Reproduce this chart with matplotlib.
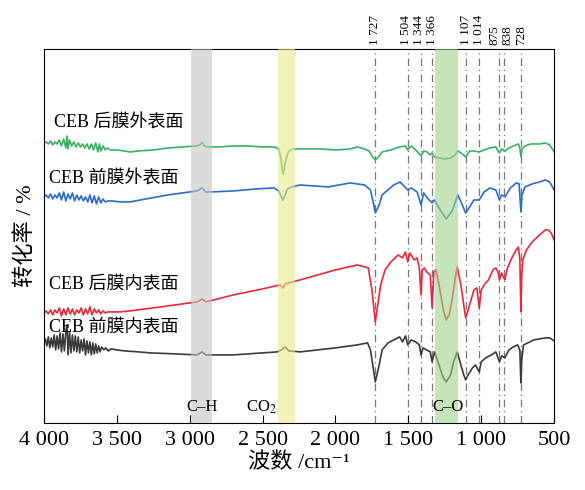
import numpy as np
import matplotlib
matplotlib.use("Agg")
import matplotlib.pyplot as plt

plt.rcParams['font.family'] = ['Liberation Serif', 'Noto Sans CJK SC', 'DejaVu Sans']
plt.rcParams['mathtext.fontset'] = 'stix'

# spectra: wavenumber (cm-1) and height (arbitrary units)
green_w = [4000, 3985, 3970, 3955, 3940, 3925, 3910, 3895, 3880, 3865, 3850, 3842, 3835, 3825, 3810,
           3795, 3780, 3765, 3750, 3735, 3720, 3705, 3690, 3675, 3660, 3645, 3630, 3620, 3610, 3595,
           3580, 3565, 3545, 3500, 3450, 3410, 3350, 3250, 3150, 3050, 2960, 2930, 2915, 2900, 2870,
           2800, 2700, 2600, 2500, 2420, 2390, 2375, 2365, 2358, 2350, 2342, 2335, 2320, 2290, 2200,
           2100, 2000, 1900, 1850, 1800, 1770, 1745, 1727, 1705, 1680, 1620, 1560, 1520, 1504, 1480,
           1450, 1430, 1413, 1395, 1370, 1350, 1337, 1320, 1290, 1250, 1210, 1180, 1160, 1130, 1107,
           1080, 1050, 1014, 980, 940, 900, 875, 860, 838, 810, 780, 745, 735, 728, 720,
           700, 660, 600, 560, 530, 500]
green_v = [280, 281, 279, 282, 278, 281, 279, 283, 277, 284, 275, 287, 274, 283, 277,
           281, 276, 280, 276, 279, 275, 279, 274, 279, 273, 280, 271, 279, 272, 277,
           273, 275, 273, 273, 272, 271, 272, 273, 275, 276, 277, 278, 281, 277, 276,
           276, 277, 277, 276, 276, 274, 265, 253, 249, 256, 262, 266, 272, 274, 274,
           274, 273, 274, 276, 274, 272, 266, 263, 266, 271, 273, 276, 277, 273, 277,
           273, 270, 267, 272, 271, 268, 270, 266, 265, 264, 265, 268, 272, 269, 266,
           272, 272, 271, 273, 275, 276, 270, 274, 272, 275, 277, 279, 275, 266, 274,
           277, 279, 279, 280, 278, 271]

blue_w = [4000, 3985, 3970, 3955, 3940, 3925, 3910, 3895, 3880, 3865, 3850, 3835, 3820, 3805, 3790,
          3775, 3760, 3745, 3730, 3715, 3700, 3685, 3670, 3655, 3640, 3625, 3610, 3595, 3580, 3560,
          3530, 3480, 3410, 3300, 3150, 3000, 2950, 2915, 2890, 2850, 2700, 2550, 2420, 2390, 2370,
          2360, 2345, 2330, 2300, 2243, 2050, 1900, 1800, 1760, 1740, 1727, 1700, 1680, 1600, 1557,
          1504, 1480, 1440, 1413, 1395, 1370, 1337, 1320, 1290, 1240, 1200, 1160, 1130, 1107, 1080,
          1050, 1014, 980, 940, 900, 875, 860, 838, 800, 760, 740, 728, 720, 700, 650,
          600, 560, 530, 500]
blue_v = [226, 228, 225, 229, 224, 228, 225, 230, 223, 231, 222, 229, 224, 230, 222,
          228, 223, 227, 222, 226, 221, 228, 220, 227, 219, 226, 220, 224, 221, 222,
          222, 221, 221, 224, 228, 231, 232, 235, 231, 231, 232, 234, 235, 232, 226,
          223, 228, 234, 236, 238, 236, 240, 238, 233, 220, 210, 218, 228, 238, 241,
          233, 235, 231, 218, 230, 225, 220, 223, 215, 204, 212, 228, 218, 210, 216,
          223, 223, 231, 235, 233, 223, 228, 226, 235, 240, 239, 211, 228, 236, 239,
          241, 243, 241, 233]

red_w = [4000, 3985, 3970, 3955, 3940, 3925, 3910, 3895, 3880, 3865, 3850, 3835, 3820, 3805, 3790,
         3775, 3760, 3745, 3730, 3715, 3700, 3685, 3670, 3655, 3640, 3625, 3610, 3595, 3580, 3560,
         3530, 3480, 3410, 3200, 3000, 2950, 2915, 2890, 2700, 2500, 2380, 2360, 2345, 2243, 2000,
         1850, 1775, 1750, 1727, 1710, 1690, 1660, 1620, 1570, 1540, 1520, 1504, 1490, 1460, 1440,
         1425, 1413, 1405, 1390, 1375, 1350, 1337, 1325, 1310, 1290, 1260, 1240, 1220, 1200, 1180,
         1165, 1140, 1120, 1107, 1090, 1070, 1050, 1030, 1014, 1000, 980, 950, 920, 900, 885,
         875, 860, 845, 838, 820, 790, 760, 745, 735, 728, 722, 715, 690, 650, 600,
         560, 540, 520, 500]
red_v = [110, 112, 109, 113, 108, 113, 110, 115, 107, 114, 108, 115, 109, 114, 108,
         113, 110, 115, 108, 114, 109, 116, 108, 114, 110, 113, 109, 112, 110, 111,
         111, 111, 112, 116, 120, 121, 124, 121, 128, 134, 138, 135, 139, 143, 153,
         158, 155, 133, 101, 118, 138, 153, 161, 168, 165, 171, 161, 170, 163, 165,
         155, 128, 153, 155, 151, 148, 115, 151, 153, 138, 113, 103, 108, 123, 143,
         156, 138, 118, 105, 113, 123, 133, 135, 115, 133, 138, 143, 153, 155, 151,
         143, 150, 145, 143, 155, 165, 173, 176, 163, 111, 148, 163, 173, 181, 188,
         193, 193, 190, 183]

black_w = [4000, 3990, 3980, 3970, 3960, 3950, 3940, 3930, 3920, 3910, 3900, 3890, 3880, 3870, 3860,
           3850, 3842, 3835, 3825, 3815, 3805, 3795, 3785, 3775, 3765, 3755, 3745, 3735, 3725, 3715,
           3705, 3695, 3685, 3675, 3665, 3655, 3645, 3635, 3625, 3615, 3605, 3590, 3575, 3560, 3540,
           3500, 3450, 3350, 3270, 3100, 2950, 2915, 2890, 2700, 2500, 2400, 2370, 2345, 2320, 2243,
           2000, 1850, 1780, 1760, 1727, 1700, 1680, 1640, 1600, 1560, 1540, 1520, 1504, 1480, 1450,
           1425, 1413, 1400, 1375, 1350, 1337, 1320, 1290, 1260, 1240, 1210, 1190, 1165, 1140, 1120,
           1107, 1090, 1060, 1040, 1014, 1000, 970, 930, 900, 875, 860, 838, 810, 780, 750,
           735, 728, 722, 710, 680, 640, 600, 560, 530, 500]
black_v = [80, 84, 77, 86, 75, 85, 76, 88, 73, 87, 74, 90, 71, 89, 72,
           92, 98, 68, 91, 70, 88, 72, 87, 71, 86, 70, 83, 72, 84, 68,
           82, 70, 81, 68, 80, 69, 79, 70, 77, 71, 76, 73, 75, 72, 74,
           73, 72, 71, 70, 69, 68, 71, 68, 68, 70, 71, 73, 76, 72, 71,
           75, 78, 80, 73, 41, 58, 73, 80, 83, 86, 81, 87, 78, 83, 81,
           78, 68, 75, 73, 71, 61, 71, 58, 45, 41, 48, 61, 71, 58, 48,
           43, 48, 55, 58, 51, 61, 65, 68, 71, 61, 67, 65, 73, 76, 78,
           73, 40, 63, 78, 80, 83, 84, 85, 85, 82]

# peak markers: line position, label text, label position
peak_pos = [1727, 1504, 1413, 1337, 1107, 1014, 880, 843, 728]
peak_lab = ['1 727', '1 504', '1 344', '1 366', '1 107', '1 014', '875', '838', '728']
lab_pos = [1727, 1515, 1426, 1337, 1107, 1014, 911, 822, 726]

# shaded regions
bands = [(2990, 2850, '#c4c4c4'), (2395, 2280, '#e8eb8c'), (1318, 1160, '#9fd388')]
band_txt = [(2915, 'C–H'), (2505, 'CO$_2$'), (1227, 'C–O')]

fig = plt.figure(figsize=(5.85, 4.9), dpi=100)
ax = fig.add_axes([0.0752, 0.137, 0.872, 0.763])

for x in peak_pos:
    ax.axvline(x, color='#777777', lw=0.9, ls=(0, (6, 3, 1, 3)), zorder=1)

ax.plot(green_w, green_v, color='#3aae63', lw=1.2, zorder=2)
ax.plot(blue_w, blue_v, color='#2a6cc8', lw=1.2, zorder=2)
ax.plot(red_w, red_v, color='#e8283c', lw=1.2, zorder=2)
ax.plot(black_w, black_v, color='#3a3a3a', lw=1.2, zorder=2)

for a, b, c in bands:
    ax.axvspan(b, a, color=c, alpha=0.6, lw=0, zorder=3)

lab_kw = dict(fontsize=13, va='center', ha='left')
ax.text(3931, 300, 'CEB 后膜外表面', **lab_kw)
ax.text(3966, 244, 'CEB 前膜外表面', **lab_kw)
ax.text(3966, 139, 'CEB 后膜内表面', **lab_kw)
ax.text(3966, 96, 'CEB 前膜内表面', **lab_kw)

for x, t in band_txt:
    ax.text(x, 16, t, fontsize=12, ha='center', va='center', zorder=4)

for x, t in zip(lab_pos, peak_lab):
    ax.text(x, 378, t, rotation=90, fontsize=9.5, ha='center', va='bottom', clip_on=False)

ax.set_xlim(4000, 500)
ax.set_ylim(0, 374)
ticks = [4000, 3500, 3000, 2500, 2000, 1500, 1000, 500]
ax.set_xticks(ticks)
ax.set_xticklabels(['4 000', '3 500', '3 000', '2 500', '2 000', '1 500', '1 000', '500'])
ax.tick_params(axis='x', direction='in', length=6, labelsize=16, pad=6)
ax.set_yticks([])
ax.set_xlabel('波数 /cm⁻¹', fontsize=16, labelpad=2)
ax.set_ylabel('转化率 / %', fontsize=16, labelpad=6)

fig.savefig('out.png', dpi=100)
